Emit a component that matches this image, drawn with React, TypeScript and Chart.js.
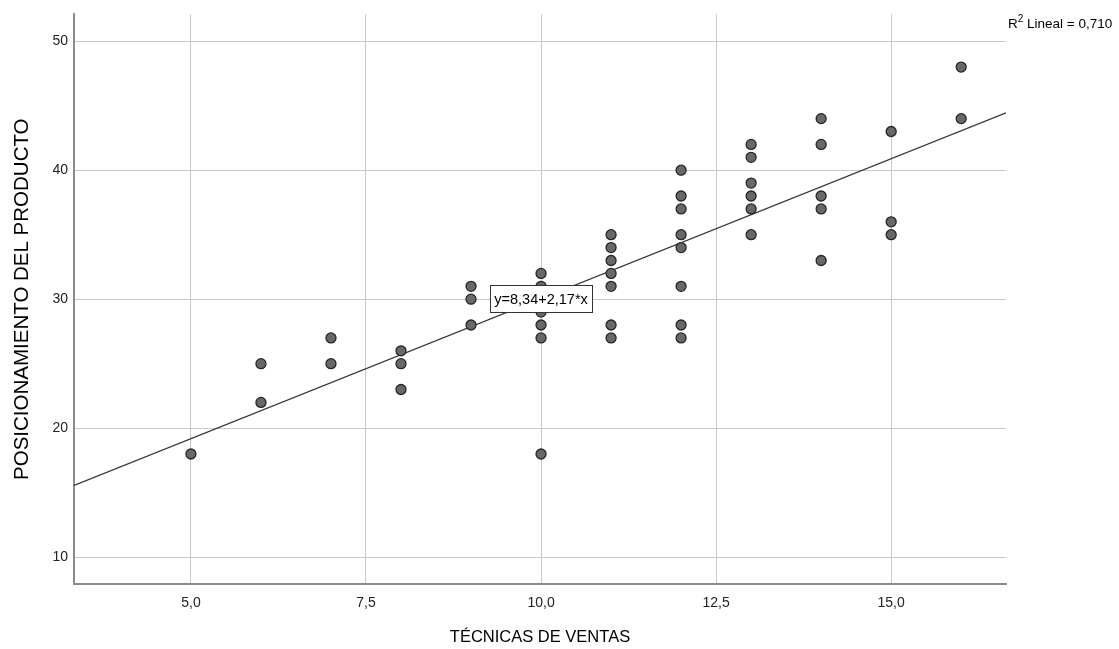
import React, { useEffect, useRef } from 'react';
import { Chart, registerables } from 'chart.js';

Chart.register(...registerables);

// TÉCNICAS DE VENTAS (x) and POSICIONAMIENTO DEL PRODUCTO (y), one entry per case
const TECNICAS = [
  5,
  6, 6,
  7, 7,
  8, 8, 8,
  9, 9, 9,
  10, 10, 10, 10, 10, 10, 10,
  11, 11, 11, 11, 11, 11, 11,
  12, 12, 12, 12, 12, 12, 12, 12,
  13, 13, 13, 13, 13, 13,
  14, 14, 14, 14, 14,
  15, 15, 15,
  16, 16,
];
const POSICIONAMIENTO = [
  18,
  25, 22,
  27, 25,
  26, 25, 23,
  31, 30, 28,
  32, 31, 30, 29, 28, 27, 18,
  35, 34, 33, 32, 31, 28, 27,
  40, 38, 37, 35, 34, 31, 28, 27,
  42, 41, 39, 38, 37, 35,
  44, 42, 38, 37, 33,
  43, 36, 35,
  48, 44,
];

const X_TICKS = [5, 7.5, 10, 12.5, 15];
const Y_TICKS = [10, 20, 30, 40, 50];
const X_RANGE = [3.33, 16.64];
const Y_RANGE = [7.92, 52.08];

const INTERCEPT = 8.34;
const SLOPE = 2.17;
const EQ_LABEL = 'y=8,34+2,17*x';
const EQ_ANCHOR = [10, 30];
const R2_TEXT = ' Lineal = 0,710';

const X_TITLE = 'TÉCNICAS DE VENTAS';
const Y_TITLE = 'POSICIONAMIENTO DEL PRODUCTO';

const FONT = "'Liberation Sans', Arial, sans-serif";

const overlayPlugin = {
  id: 'spssOverlay',
  afterDatasetsDraw(chart: any) {
    const { ctx, scales } = chart;
    const xs = scales.x;
    const ys = scales.y;
    ctx.save();
    ctx.font = `14.5px ${FONT}`;
    const tw = ctx.measureText(EQ_LABEL).width;
    const cx = xs.getPixelForValue(EQ_ANCHOR[0]);
    const cy = ys.getPixelForValue(EQ_ANCHOR[1]);
    const bw = Math.round(tw + 8);
    const bh = 27;
    const bx = Math.round(cx - bw / 2) + 0.5;
    const by = Math.round(cy - bh / 2) - 0.5;
    ctx.fillStyle = '#ffffff';
    ctx.fillRect(bx, by, bw, bh);
    ctx.strokeStyle = '#333333';
    ctx.lineWidth = 1;
    ctx.strokeRect(bx, by, bw, bh);
    ctx.fillStyle = '#000000';
    ctx.textAlign = 'center';
    ctx.textBaseline = 'middle';
    ctx.fillText(EQ_LABEL, cx, cy + 1);
    ctx.restore();
  },
  afterDraw(chart: any) {
    const { ctx, chartArea } = chart;
    ctx.save();
    ctx.fillStyle = '#000000';
    // R² label
    ctx.textBaseline = 'alphabetic';
    ctx.textAlign = 'left';
    let x = chartArea.right + 2;
    const base = 28;
    ctx.font = `13.5px ${FONT}`;
    ctx.fillText('R', x, base);
    x += ctx.measureText('R').width;
    ctx.font = `10px ${FONT}`;
    ctx.fillText('2', x, base - 6);
    x += ctx.measureText('2').width;
    ctx.font = `13.5px ${FONT}`;
    ctx.fillText(R2_TEXT, x, base);

    // x axis title
    ctx.font = `16.5px ${FONT}`;
    ctx.textAlign = 'center';
    ctx.textBaseline = 'middle';
    ctx.fillText(X_TITLE, (chartArea.left + chartArea.right) / 2, 637);

    // y axis title
    ctx.font = `20.5px ${FONT}`;
    ctx.translate(22, (chartArea.top + chartArea.bottom) / 2);
    ctx.rotate(-Math.PI / 2);
    ctx.fillText(Y_TITLE, 0, 0);
    ctx.restore();
  },
};

export default function App() {
  const ref = useRef<HTMLCanvasElement>(null);

  useEffect(() => {
    document.body.style.margin = '0';
    const points = TECNICAS.map((x, i) => ({ x, y: POSICIONAMIENTO[i] }));
    const fit = X_RANGE.map((x) => ({ x, y: INTERCEPT + SLOPE * x }));
    const chart = new Chart(ref.current as HTMLCanvasElement, {
      type: 'scatter',
      data: {
        datasets: [
          {
            type: 'line',
            data: fit,
            borderColor: '#333333',
            borderWidth: 1.2,
            pointRadius: 0,
            fill: false,
            order: 2,
          } as any,
          {
            data: points,
            backgroundColor: '#686868',
            borderColor: '#262626',
            borderWidth: 1.3,
            pointRadius: 5,
            order: 1,
          },
        ],
      },
      options: {
        animation: false,
        responsive: false,
        events: [],
        layout: { padding: { left: 0, right: 113, top: 11, bottom: 0 } },
        plugins: { legend: { display: false }, tooltip: { enabled: false } },
        scales: {
          x: {
            type: 'linear',
            min: X_RANGE[0],
            max: X_RANGE[1],
            afterBuildTicks: (axis: any) => {
              axis.ticks = X_TICKS.map((v) => ({ value: v }));
            },
            afterFit: (axis: any) => {
              axis.height = 65;
            },
            grid: { color: '#c8c8c8', lineWidth: 1, drawTicks: false },
            border: { color: '#8c8c8c', width: 2 },
            ticks: {
              padding: 11,
              color: '#222222',
              font: { family: FONT, size: 14 },
              maxRotation: 0,
              callback: (v: any) => Number(v).toFixed(1).replace('.', ','),
            },
          },
          y: {
            type: 'linear',
            min: Y_RANGE[0],
            max: Y_RANGE[1],
            afterBuildTicks: (axis: any) => {
              axis.ticks = Y_TICKS.map((v) => ({ value: v }));
            },
            afterFit: (axis: any) => {
              axis.width = 74;
            },
            grid: { color: '#c8c8c8', lineWidth: 1, drawTicks: false },
            border: { color: '#8c8c8c', width: 2 },
            ticks: {
              padding: 6,
              color: '#222222',
              font: { family: FONT, size: 14 },
              callback: (v: any) => String(v),
            },
          },
        },
      },
      plugins: [overlayPlugin],
    });
    return () => chart.destroy();
  }, []);

  return (
    <div style={{ width: 1119, height: 649 }}>
      <canvas ref={ref} width={1119} height={649} style={{ display: 'block' }} />
    </div>
  );
}
